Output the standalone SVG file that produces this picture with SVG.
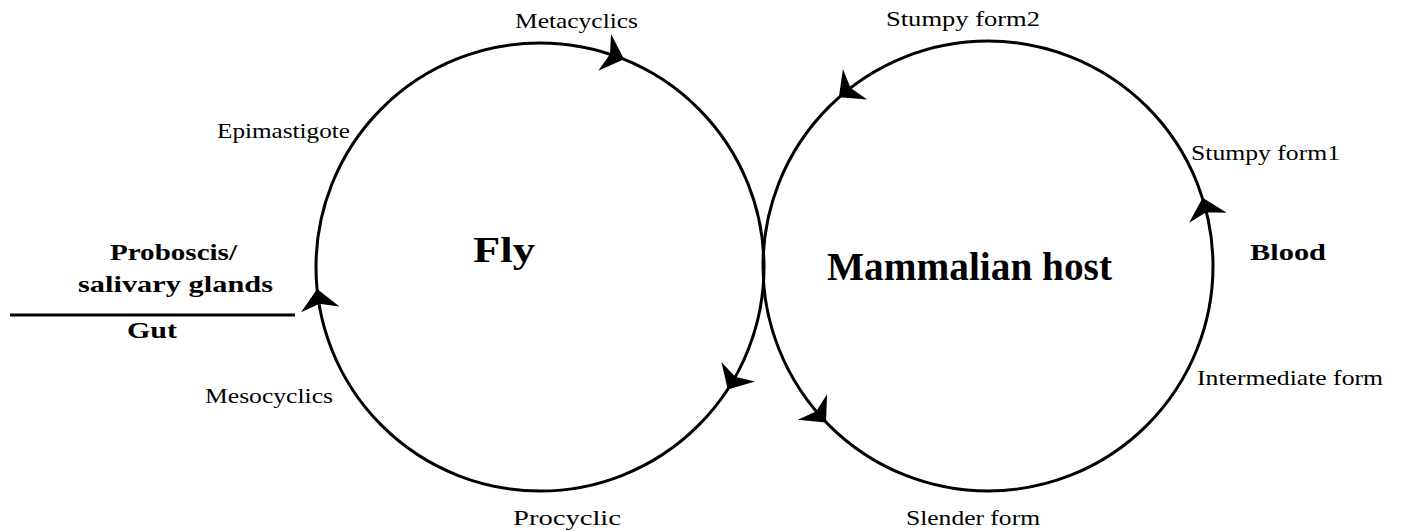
<svg xmlns="http://www.w3.org/2000/svg" width="1403" height="531" viewBox="0 0 1403 531">
<style>
.c{fill:none;stroke:#000;stroke-width:3}
.t{font-family:"Liberation Serif","Times New Roman",serif;font-size:22px;fill:#000}
.b{font-family:"Liberation Serif","Times New Roman",serif;font-weight:bold;font-size:24px;fill:#000}
.ah{fill:#000;stroke:#000;stroke-width:1.5;stroke-linejoin:miter}
</style>
<defs>
<path id="ah" class="ah" d="M10,0 L-8,-17 L-3,0 L-8,17 Z"/>
</defs>
<rect width="1403" height="531" fill="#fff"/>
<g id="fly">
<circle class="c" cx="540" cy="267" r="224"/>
<text class="b" x="473" y="262" style="font-size:36px" textLength="62" lengthAdjust="spacingAndGlyphs">Fly</text>
</g>
<g id="mammalian-host">
<circle class="c" cx="988" cy="266" r="225"/>
<text class="b" x="827" y="280" style="font-size:40px" textLength="285" lengthAdjust="spacingAndGlyphs">Mammalian host</text>
</g>
<g id="divider">
<line x1="10" y1="315" x2="295" y2="315" stroke="#000" stroke-width="3"/>
<text class="b" x="110" y="260" textLength="127" lengthAdjust="spacingAndGlyphs">Proboscis/</text>
<text class="b" x="78" y="292" textLength="195" lengthAdjust="spacingAndGlyphs">salivary glands</text>
<text class="b" x="127" y="338" textLength="50" lengthAdjust="spacingAndGlyphs">Gut</text>
</g>
<g id="blood"><text class="b" x="1250" y="260" textLength="76" lengthAdjust="spacingAndGlyphs">Blood</text></g>
<g id="metacyclics"><text class="t" x="515" y="28" textLength="123" lengthAdjust="spacingAndGlyphs">Metacyclics</text></g>
<g id="epimastigote"><text class="t" x="217" y="138" textLength="133" lengthAdjust="spacingAndGlyphs">Epimastigote</text></g>
<g id="mesocyclics"><text class="t" x="205" y="403" textLength="128" lengthAdjust="spacingAndGlyphs">Mesocyclics</text></g>
<g id="procyclic"><text class="t" x="513" y="525" textLength="108" lengthAdjust="spacingAndGlyphs">Procyclic</text></g>
<g id="stumpy-form2"><text class="t" x="886" y="26" textLength="154" lengthAdjust="spacingAndGlyphs">Stumpy form2</text></g>
<g id="stumpy-form1"><text class="t" x="1191" y="160" textLength="149" lengthAdjust="spacingAndGlyphs">Stumpy form1</text></g>
<g id="intermediate-form"><text class="t" x="1197" y="385" textLength="186" lengthAdjust="spacingAndGlyphs">Intermediate form</text></g>
<g id="slender-form"><text class="t" x="906" y="525" textLength="134" lengthAdjust="spacingAndGlyphs">Slender form</text></g>
<g id="connectors">
<use href="#ah" transform="translate(613.6,55.5) rotate(19.2)"/>
<use href="#ah" transform="translate(318.8,300) rotate(261.5)"/>
<use href="#ah" transform="translate(733.4,380) rotate(120.3)"/>
<use href="#ah" transform="translate(847.6,90.2) rotate(141.4)"/>
<use href="#ah" transform="translate(818.7,414.2) rotate(48.8)"/>
<use href="#ah" transform="translate(1205.5,208.5) rotate(-104.8)"/>
</g>
</svg>
